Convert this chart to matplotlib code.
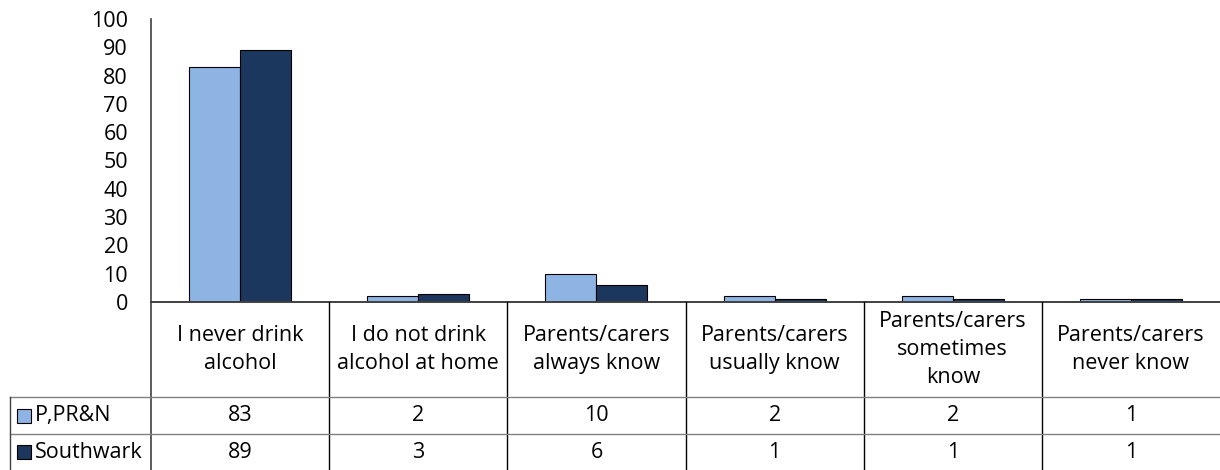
import matplotlib.pyplot as plt

plt.rcParams['font.family'] = ['Open Sans', 'DejaVu Sans']

categories = ['I never drink\nalcohol', 'I do not drink\nalcohol at home',
              'Parents/carers\nalways know', 'Parents/carers\nusually know',
              'Parents/carers\nsometimes\nknow', 'Parents/carers\nnever know']
series_names = ['P,PR&N', 'Southwark']
pprn = [83, 2, 10, 2, 2, 1]
southwark = [89, 3, 6, 1, 1, 1]
yticks = [0, 10, 20, 30, 40, 50, 60, 70, 80, 90, 100]

light = '#8EB4E3'
dark = '#1B375D'
fs = 15.5

W, H = 1220, 470
fig = plt.figure(figsize=(W / 100, H / 100), dpi=100)

# pixel helpers
ax_left, ax_right = 151, 1220
y_top, y_zero = 19, 302

# bar axes
ax = fig.add_axes([ax_left / W, (H - y_zero) / H, (ax_right - ax_left) / W, (y_zero - y_top) / H])
n = len(categories)
x = list(range(n))
bw = 0.286
ax.bar([i - bw / 2 for i in x], pprn, bw, color=light, edgecolor='black', linewidth=0.8)
ax.bar([i + bw / 2 for i in x], southwark, bw, color=dark, edgecolor='black', linewidth=0.8)
ax.set_xlim(-0.5, n - 0.5)
ax.set_ylim(0, 100)
ax.set_yticks(yticks)
ax.set_yticklabels([str(t) for t in yticks], fontsize=fs)
ax.tick_params(axis='y', length=0, pad=16.5)
ax.set_xticks([])
for s in ['top', 'right', 'bottom']:
    ax.spines[s].set_visible(False)
ax.spines['left'].set_color('#404040')
ax.spines['left'].set_linewidth(1.2)
ax.patch.set_alpha(0)

# overlay for data table, pixel coords
ov = fig.add_axes([0, 0, 1, 1])
ov.set_xlim(0, W)
ov.set_ylim(H, 0)
ov.axis('off')
ov.patch.set_alpha(0)

cw = (ax_right - ax_left) / n
row1, row2, bottom = 397, 434, 470
leg_left = 10

# axis baseline
ov.plot([ax_left, ax_right], [y_zero, y_zero], color='#404040', lw=1.4)
# y axis continues down through table
ov.plot([ax_left, ax_left], [y_zero, bottom], color='#404040', lw=1.2)
# category separators
for k in range(1, n):
    xx = ax_left + k * cw
    ov.plot([xx, xx], [y_zero, bottom], color='black', lw=1.0)
# row lines
for yy in [row1, row2]:
    ov.plot([leg_left, ax_right], [yy, yy], color='#808080', lw=1.0)
ov.plot([leg_left, leg_left], [row1, bottom], color='#404040', lw=1.0)

# category labels
for k, c in enumerate(categories):
    ov.text(ax_left + (k + 0.5) * cw, (y_zero + row1) / 2, c, ha='center', va='center',
            fontsize=fs, linespacing=1.45)

# rows
for r, (name, vals, col) in enumerate([(series_names[0], pprn, light), (series_names[1], southwark, dark)]):
    y0 = [row1, row2][r]
    y1 = [row2, bottom][r]
    yc = (y0 + y1) / 2
    ov.add_patch(plt.Rectangle((17, yc - 7), 14, 14, facecolor=col, edgecolor='black', lw=0.8))
    ov.text(35, yc, name, ha='left', va='center', fontsize=fs)
    for k, v in enumerate(vals):
        ov.text(ax_left + (k + 0.5) * cw, yc, str(v), ha='center', va='center', fontsize=fs)

fig.savefig('out.png', dpi=100)
